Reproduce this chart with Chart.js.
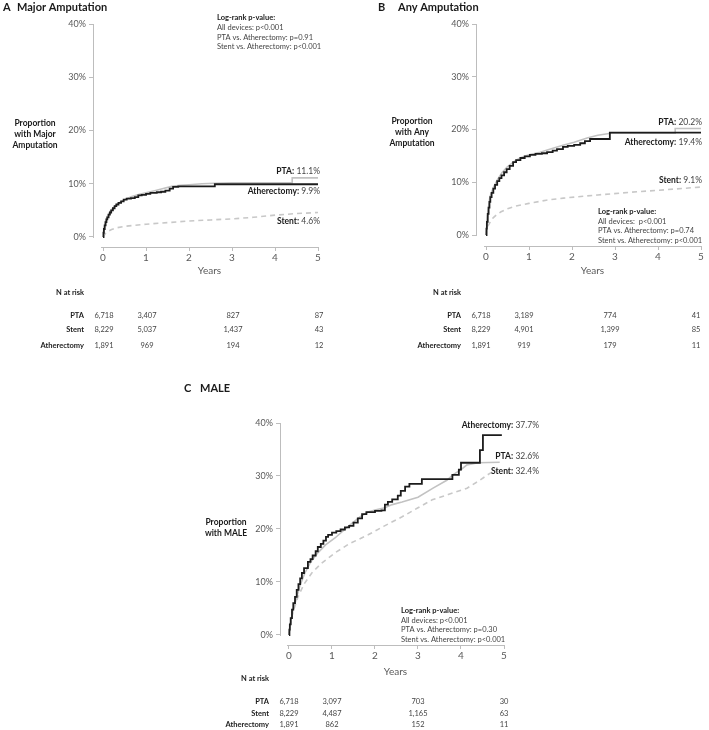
<!DOCTYPE html>
<html>
<head>
<meta charset="utf-8">
<script src="https://cdn.jsdelivr.net/npm/chart.js@4.4.1/dist/chart.umd.min.js"></script>
<style>
  body { margin: 0; background: #fff; }
  #wrap { position: relative; width: 709px; height: 730px; }
  canvas { position: absolute; }
</style>
</head>
<body>
<div id="wrap">
  <canvas id="chartA" width="355" height="360" style="left:0;top:0"></canvas>
  <canvas id="chartB" width="354" height="360" style="left:355px;top:0"></canvas>
  <canvas id="chartC" width="400" height="360" style="left:150px;top:370px"></canvas>
</div>
<script>
const FONT = "Lato, 'Liberation Sans', sans-serif";

const years = [0, 1, 2, 3, 4, 5];
const pctTicks = [0, 10, 20, 30, 40];
const riskYears = [0, 1, 3, 5];
const groups = ["PTA", "Stent", "Atherectomy"];

// A: major amputation, [years, %]
const majorAth = [[0,0],[0.01,0.8],[0.02,1.5],[0.04,2.2],[0.06,2.8],[0.08,3.3],[0.1,3.7],[0.13,4.2],[0.16,4.6],[0.19,5.0],[0.23,5.4],[0.27,5.8],[0.31,6.1],[0.36,6.4],[0.42,6.7],[0.48,7.0],[0.55,7.2],[0.65,7.3],[0.74,7.5],[0.82,7.8],[0.9,7.9],[1.0,8.1],[1.1,8.3],[1.25,8.4],[1.35,8.5],[1.45,8.7],[1.55,9.1],[1.63,9.4],[1.75,9.5],[2.6,9.9],[5.0,9.9]];
const majorPta = [[0,0],[0.02,1.6],[0.05,2.8],[0.1,3.9],[0.16,4.8],[0.25,5.6],[0.35,6.3],[0.5,7.0],[0.67,7.6],[0.85,8.0],[1.0,8.3],[1.2,8.7],[1.4,9.1],[1.6,9.5],[1.8,9.7],[2.0,9.8],[2.3,10.0],[2.6,10.1],[3.0,10.2],[4.4,10.2],[4.4,11.1],[5.0,11.1]];
const majorStent = [[0,0],[0.05,0.6],[0.1,1.0],[0.2,1.4],[0.3,1.7],[0.5,2.0],[0.75,2.2],[1.0,2.4],[1.5,2.7],[2.0,3.0],[2.5,3.2],[3.0,3.4],[3.5,3.7],[4.0,4.1],[4.5,4.4],[5.0,4.6]];
const majorRiskPta = [6718, 3407, 827, 87];
const majorRiskStent = [8229, 5037, 1437, 43];
const majorRiskAth = [1891, 969, 194, 12];

// B: any amputation
const anyAth = [[0,0],[0.01,1.2],[0.02,2.5],[0.04,4.0],[0.06,5.2],[0.08,6.3],[0.1,7.2],[0.13,8.0],[0.17,8.8],[0.21,9.5],[0.26,10.2],[0.31,10.8],[0.36,11.3],[0.42,11.9],[0.48,12.5],[0.55,13.1],[0.63,13.8],[0.7,14.2],[0.8,14.6],[0.9,14.9],[1.02,15.2],[1.15,15.4],[1.3,15.5],[1.42,15.7],[1.55,16.0],[1.65,16.3],[1.79,16.7],[1.9,16.9],[2.05,17.1],[2.19,17.4],[2.3,17.8],[2.42,18.2],[2.88,19.4],[5.0,19.4]];
const anyPta = [[0,0],[0.02,2.5],[0.05,4.8],[0.09,7.2],[0.17,9.0],[0.26,10.4],[0.37,11.8],[0.49,12.9],[0.65,13.9],[0.79,14.6],[1.0,15.2],[1.26,15.7],[1.5,16.3],[1.79,17.0],[2.05,17.6],[2.35,18.4],[2.6,18.9],[2.9,19.3],[4.4,19.3],[4.4,20.2],[5.0,20.2]];
const anyStent = [[0,0],[0.02,1.0],[0.05,1.8],[0.1,2.5],[0.16,3.2],[0.25,3.9],[0.35,4.4],[0.5,5.0],[0.7,5.5],[1.0,6.0],[1.4,6.6],[1.8,7.0],[2.6,7.6],[3.35,8.1],[4.2,8.6],[5.0,9.1]];
const anyRiskPta = [6718, 3189, 774, 41];
const anyRiskStent = [8229, 4901, 1399, 85];
const anyRiskAth = [1891, 919, 179, 11];

// C: MALE
const maleAth = [[0,0],[0.01,1.0],[0.02,2.0],[0.04,3.2],[0.07,4.8],[0.1,6.0],[0.14,7.2],[0.18,8.5],[0.22,9.6],[0.26,10.7],[0.3,11.7],[0.35,12.6],[0.44,13.8],[0.5,14.3],[0.55,15.0],[0.62,15.8],[0.67,16.6],[0.74,17.2],[0.8,17.8],[0.86,18.5],[0.91,18.9],[1.0,19.3],[1.1,19.6],[1.2,19.9],[1.3,20.3],[1.4,20.6],[1.5,21.2],[1.6,22.0],[1.7,22.8],[1.8,23.2],[2.0,23.4],[2.15,23.5],[2.23,24.6],[2.3,25.1],[2.4,25.6],[2.53,26.3],[2.6,27.2],[2.7,28.0],[2.8,28.5],[3.09,29.4],[3.74,29.4],[3.8,30.2],[3.95,31.2],[4.0,32.5],[4.44,32.5],[4.44,34.9],[4.51,34.9],[4.51,37.7],[4.95,37.7]];
const malePta = [[0,0],[0.02,1.5],[0.05,3.0],[0.09,4.5],[0.14,6.0],[0.25,9.2],[0.37,11.7],[0.5,13.7],[0.67,15.5],[0.85,17.0],[1.07,18.3],[1.25,19.6],[1.47,21.1],[1.65,22.3],[1.84,23.2],[2.0,23.6],[2.23,24.0],[2.4,24.6],[2.63,25.1],[3.0,26.0],[3.35,27.7],[3.67,29.2],[3.81,30.2],[4.0,31.2],[4.14,32.1],[4.4,32.5],[4.9,32.6]];
const maleStent = [[0,0],[0.02,1.5],[0.05,2.8],[0.1,4.5],[0.21,7.2],[0.35,9.6],[0.53,11.7],[0.75,13.5],[1.07,15.5],[1.4,17.2],[1.84,18.9],[2.2,20.5],[2.63,22.3],[3.0,24.0],[3.33,25.5],[3.7,26.5],[4.14,27.7],[4.4,29.0],[4.67,30.5],[4.85,31.2]];
const maleRiskPta = [6718, 3097, 703, 30];
const maleRiskStent = [8229, 4487, 1165, 63];
const maleRiskAth = [1891, 862, 152, 11];

const fmt = (n) => n.toLocaleString("en-US");

// bold name + regular value, right aligned
function drawEndLabel(ctx, name, value, xRight, y) {
  ctx.font = `bold 8.5px ${FONT}`;
  const w1 = ctx.measureText(name + ":").width;
  ctx.font = `8.5px ${FONT}`;
  const w2 = ctx.measureText(" " + value).width;
  const x0 = xRight - w1 - w2;
  ctx.textAlign = "left";
  ctx.font = `bold 8.5px ${FONT}`;
  ctx.fillStyle = "#1a1a1a";
  ctx.fillText(name + ":", x0, y);
  ctx.font = `8.5px ${FONT}`;
  ctx.fillStyle = "#444";
  ctx.fillText(" " + value, x0 + w1, y);
}

function panelPlugin(cfg) {
  return {
    id: "panel" + cfg.letter,
    beforeDatasetsDraw(chart) {
      // axis lines (the y axis stops at 0%, the x axis starts at year 0)
      const ctx = chart.ctx;
      const xs = chart.scales.x, ys = chart.scales.y;
      ctx.save();
      ctx.strokeStyle = "#bdbdbd";
      ctx.lineWidth = 1;
      ctx.beginPath();
      const ax = Math.round(chart.chartArea.left) + 0.5;
      ctx.moveTo(ax, ys.getPixelForValue(40));
      ctx.lineTo(ax, ys.getPixelForValue(0) + 1);
      const ay = Math.round(chart.chartArea.bottom) + 0.5;
      ctx.moveTo(xs.getPixelForValue(0) - 2, ay);
      ctx.lineTo(xs.getPixelForValue(5), ay);
      ctx.stroke();
      ctx.restore();
    },
    afterDraw(chart) {
      const ctx = chart.ctx;
      const xs = chart.scales.x;
      ctx.save();
      ctx.textBaseline = "middle";

      // panel title
      ctx.fillStyle = "#1a1a1a";
      ctx.textAlign = "left";
      ctx.font = `bold 11px ${FONT}`;
      ctx.fillText(cfg.letter, cfg.titleX[0], cfg.titleY);
      ctx.fillText(cfg.title, cfg.titleX[1], cfg.titleY);

      // y axis title
      ctx.font = `bold 8.5px ${FONT}`;
      ctx.textAlign = "center";
      cfg.yTitle.forEach((t, i) => ctx.fillText(t, cfg.yTitleX, cfg.yTitleY + i * 11));

      // log-rank box
      ctx.textAlign = "left";
      cfg.logrank.forEach((t, i) => {
        ctx.font = (i === 0 ? "bold " : "") + `7.5px ${FONT}`;
        ctx.fillStyle = i === 0 ? "#1a1a1a" : "#444";
        ctx.fillText(t, cfg.logrankX, cfg.logrankY + i * cfg.logrankStep);
      });

      // curve end labels
      cfg.ends.forEach((e) => drawEndLabel(ctx, e[0], e[1], cfg.endX, e[2]));

      // x axis title
      ctx.font = `10px ${FONT}`;
      ctx.fillStyle = "#595959";
      ctx.textAlign = "center";
      ctx.fillText("Years", (xs.getPixelForValue(0) + xs.getPixelForValue(5)) / 2 - 1, cfg.yearsY);

      // numbers at risk
      ctx.textAlign = "right";
      ctx.font = `bold 7.5px ${FONT}`;
      ctx.fillStyle = "#1a1a1a";
      ctx.fillText("N at risk", cfg.riskLabelX, cfg.riskHeadY);
      groups.forEach((g, r) => {
        ctx.textAlign = "right";
        ctx.font = `bold 7.5px ${FONT}`;
        ctx.fillStyle = "#1a1a1a";
        ctx.fillText(g, cfg.riskLabelX, cfg.riskRowY[r]);
        ctx.textAlign = "center";
        ctx.font = `7.5px ${FONT}`;
        ctx.fillStyle = "#444";
        cfg.risk[r].forEach((n, j) => {
          ctx.fillText(fmt(n), xs.getPixelForValue(riskYears[j]) + cfg.riskDx, cfg.riskRowY[r]);
        });
      });
      ctx.restore();
    },
  };
}

function datasets(ath, pta, stent) {
  return [
    { label: "Atherectomy", data: ath, borderColor: "#1c1c1c", borderWidth: 1.8, stepped: true, pointRadius: 0 },
    { label: "PTA", data: pta, borderColor: "#c2c2c2", borderWidth: 1.6, pointRadius: 0 },
    { label: "Stent", data: stent, borderColor: "#c8c8c8", borderWidth: 1.6, borderDash: [5, 4], pointRadius: 0 },
  ];
}

function makeChart(id, cfg) {
  const tickGrid = { display: true, drawOnChartArea: false, drawTicks: true, tickLength: 4, color: "#bdbdbd" };
  return new Chart(document.getElementById(id), {
    type: "line",
    data: { datasets: datasets(cfg.ath, cfg.pta, cfg.stent) },
    options: {
      responsive: false,
      devicePixelRatio: 1,
      animation: false,
      layout: { padding: { left: 0, top: cfg.top, right: cfg.right, bottom: 0 } },
      plugins: { legend: { display: false }, tooltip: { enabled: false } },
      scales: {
        x: {
          type: "linear",
          min: cfg.xMin,
          max: 5,
          afterBuildTicks: (s) => { s.ticks = years.map((v) => ({ value: v })); },
          afterFit: (s) => { s.height = cfg.xHeight; },
          grid: tickGrid,
          border: { display: false },
          ticks: { color: "#595959", font: { size: 10, family: FONT }, padding: 1, maxRotation: 0, autoSkip: false },
        },
        y: {
          min: cfg.yMin,
          max: 40,
          afterBuildTicks: (s) => { s.ticks = pctTicks.map((v) => ({ value: v })); },
          afterFit: (s) => { s.width = cfg.yWidth; },
          grid: tickGrid,
          border: { display: false },
          ticks: { color: "#595959", font: { size: 9, family: FONT }, padding: 3, callback: (v) => v + "%" },
        },
      },
    },
    plugins: [panelPlugin(cfg)],
  });
}

makeChart("chartA", {
  ath: majorAth, pta: majorPta, stent: majorStent,
  risk: [majorRiskPta, majorRiskStent, majorRiskAth],
  xMin: -0.233, yMin: -1.88, yWidth: 93, xHeight: 113, top: 24, right: 37,
  letter: "A", title: "Major Amputation", titleX: [3, 17], titleY: 7,
  yTitle: ["Proportion", "with Major", "Amputation"], yTitleX: 35, yTitleY: 123,
  logrank: ["Log-rank p-value:", "All devices: p<0.001", "PTA vs. Atherectomy: p=0.91", "Stent vs. Atherectomy: p<0.001"],
  logrankX: 217, logrankY: 18, logrankStep: 9.6,
  ends: [["PTA", "11.1%", 171], ["Atherectomy", "9.9%", 191], ["Stent", "4.6%", 221]], endX: 320,
  yearsY: 271,
  riskLabelX: 84, riskHeadY: 293, riskRowY: [316, 330, 346], riskDx: 1,
});

makeChart("chartB", {
  ath: anyAth, pta: anyPta, stent: anyStent,
  risk: [anyRiskPta, anyRiskStent, anyRiskAth],
  xMin: -0.233, yMin: -2.08, yWidth: 121, xHeight: 114, top: 24, right: 8,
  letter: "B", title: "Any Amputation", titleX: [23, 43], titleY: 7,
  yTitle: ["Proportion", "with Any", "Amputation"], yTitleX: 57, yTitleY: 121,
  logrank: ["Log-rank p-value:", "All devices:  p<0.001", "PTA vs. Atherectomy: p=0.74", "Stent vs. Atherectomy: p<0.001"],
  logrankX: 243, logrankY: 212, logrankStep: 9.5,
  ends: [["PTA", "20.2%", 122], ["Atherectomy", "19.4%", 142], ["Stent", "9.1%", 180]], endX: 347,
  yearsY: 271,
  riskLabelX: 106, riskHeadY: 293, riskRowY: [315.5, 330, 345.5], riskDx: -5,
});

makeChart("chartC", {
  ath: maleAth, pta: malePta, stent: maleStent,
  risk: [maleRiskPta, maleRiskStent, maleRiskAth],
  xMin: -0.209, yMin: -1.89, yWidth: 130, xHeight: 85, top: 53, right: 46,
  letter: "C", title: "MALE", titleX: [34, 50], titleY: 18,
  yTitle: ["Proportion", "with MALE"], yTitleX: 76, yTitleY: 152,
  logrank: ["Log-rank p-value:", "All devices: p<0.001", "PTA vs. Atherectomy: p=0.30", "Stent vs. Atherectomy: p<0.001"],
  logrankX: 251, logrankY: 241, logrankStep: 9.5,
  ends: [["Atherectomy", "37.7%", 55], ["PTA", "32.6%", 86], ["Stent", "32.4%", 101]], endX: 389,
  yearsY: 302,
  riskLabelX: 119, riskHeadY: 309, riskRowY: [332, 344, 355], riskDx: 0,
});
</script>
</body>
</html>
